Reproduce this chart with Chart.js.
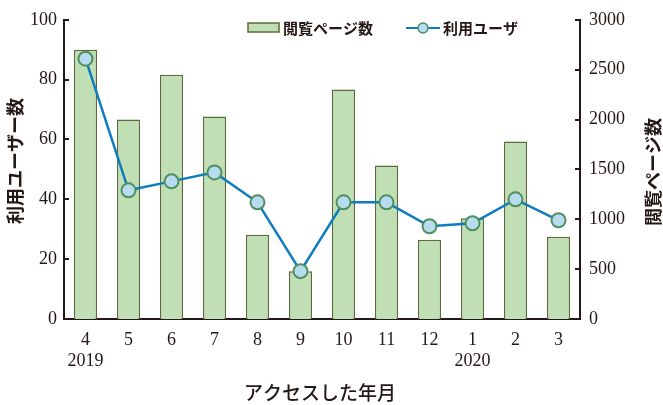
<!DOCTYPE html>
<html>
<head>
<meta charset="utf-8">
<script src="https://cdn.jsdelivr.net/npm/chart.js@4"></script>
<style>
  html, body { margin: 0; padding: 0; background: #fff; }
  #wrap { width: 663px; height: 405px; }
</style>
</head>
<body>
<div id="wrap"><canvas id="accessChart" width="663" height="405"></canvas></div>
<script>
// ===== data =====
const months = ['4', '5', '6', '7', '8', '9', '10', '11', '12', '1', '2', '3'];
const years = ['2019', '', '', '', '', '', '', '', '', '2020', '', ''];
const pageViews = [2700, 2000, 2450, 2030, 845, 480, 2300, 1540, 795, 1010, 1780, 825];
const users = [87, 43, 46, 49, 39, 16, 39, 39, 31, 32, 40, 33];
const userTicks = [0, 20, 40, 60, 80, 100];
const viewTicks = [0, 500, 1000, 1500, 2000, 2500, 3000];

const INK = '#231815';
const serif = '"Liberation Serif", "DejaVu Serif", serif';
const sans = '"Noto Sans CJK JP", "Noto Sans", sans-serif';

// inward tick marks, axis titles (bottom-to-top on both sides), legend
const decorPlugin = {
  id: 'decor',
  afterDraw(chart) {
    const ctx = chart.ctx;
    const area = chart.chartArea;
    const yL = chart.scales.y;
    const yR = chart.scales.y2;
    ctx.save();
    ctx.strokeStyle = INK;
    ctx.lineWidth = 2;
    userTicks.forEach(v => {
      const py = Math.round(yL.getPixelForValue(v));
      ctx.beginPath(); ctx.moveTo(area.left, py); ctx.lineTo(area.left + 5, py); ctx.stroke();
    });
    viewTicks.forEach(v => {
      const py = Math.round(yR.getPixelForValue(v));
      ctx.beginPath(); ctx.moveTo(area.right, py); ctx.lineTo(area.right - 5, py); ctx.stroke();
    });

    // axis titles
    ctx.fillStyle = INK;
    ctx.font = 'bold 18px ' + sans;
    ctx.textAlign = 'center';
    ctx.textBaseline = 'middle';
    ctx.save();
    ctx.translate(15, 161);
    ctx.rotate(-Math.PI / 2);
    ctx.fillText('利用ユーザー数', 0, 0);
    ctx.restore();
    ctx.save();
    ctx.translate(653, 172);
    ctx.rotate(-Math.PI / 2);
    ctx.fillText('閲覧ページ数', 0, 0);
    ctx.restore();
    ctx.font = '500 19px ' + sans;
    ctx.fillText('アクセスした年月', 320, 393);

    // legend
    const bar = chart.data.datasets.find(d => d.type === 'bar');
    const line = chart.data.datasets.find(d => d.type === 'line');
    ctx.font = 'bold 15px ' + sans;
    ctx.textAlign = 'left';
    ctx.fillStyle = bar.backgroundColor;
    ctx.strokeStyle = bar.borderColor;
    ctx.lineWidth = 1.5;
    ctx.fillRect(248, 23, 31, 9);
    ctx.strokeRect(248, 23, 31, 9);
    ctx.fillStyle = INK;
    ctx.fillText(bar.label, 283, 28);

    ctx.strokeStyle = line.borderColor;
    ctx.lineWidth = 2;
    ctx.beginPath(); ctx.moveTo(406, 28); ctx.lineTo(440, 28); ctx.stroke();
    ctx.beginPath();
    ctx.arc(423, 28, 5, 0, 2 * Math.PI);
    ctx.fillStyle = line.pointBackgroundColor;
    ctx.fill();
    ctx.strokeStyle = line.pointBorderColor;
    ctx.lineWidth = 1.5;
    ctx.stroke();
    ctx.fillStyle = INK;
    ctx.fillText(line.label, 443, 28);
    ctx.restore();
  }
};

const accessCtx = document.getElementById('accessChart').getContext('2d');
const accessChart = new Chart(accessCtx, {
  data: {
    labels: months.map((m, i) => years[i] ? [m, years[i]] : m),
    datasets: [{
      type: 'line',
      label: '利用ユーザ',
      data: users,
      yAxisID: 'y',
      borderColor: '#0f7cc0',
      borderWidth: 2.5,
      pointRadius: 7,
      pointBackgroundColor: '#b7dbef',
      pointBorderColor: '#4e9060',
      pointBorderWidth: 2,
      tension: 0,
      order: 0
    }, {
      type: 'bar',
      label: '閲覧ページ数',
      data: pageViews,
      yAxisID: 'y2',
      backgroundColor: '#c0dfb5',
      borderColor: '#5b6b3c',
      borderWidth: 1.5,
      barPercentage: 0.54,
      categoryPercentage: 1,
      order: 1
    }]
  },
  options: {
    responsive: false,
    animation: false,
    devicePixelRatio: 1,
    layout: { padding: { top: 17, left: 0, right: 0, bottom: 0 } },
    plugins: {
      legend: { display: false },
      tooltip: { enabled: false }
    },
    scales: {
      x: {
        grid: { display: false, drawTicks: false },
        border: { color: INK, width: 2 },
        ticks: { color: INK, font: { family: serif, size: 18 }, padding: 10, maxRotation: 0, autoSkip: false },
        afterFit(scale) { scale.height = 86; }
      },
      y: {
        position: 'left',
        min: 0, max: 100,
        grid: { display: false, drawTicks: false },
        border: { color: INK, width: 2 },
        ticks: { stepSize: 20, color: INK, font: { family: serif, size: 18 }, padding: 7 },
        afterFit(scale) { scale.width = 64; }
      },
      y2: {
        position: 'right',
        min: 0, max: 3000,
        grid: { display: false, drawTicks: false },
        border: { color: INK, width: 2 },
        ticks: {
          stepSize: 500, color: INK, font: { family: serif, size: 18 }, padding: 9,
          callback: v => String(v)
        },
        afterFit(scale) { scale.width = 83; }
      }
    }
  },
  plugins: [decorPlugin]
});
</script>
</body>
</html>
